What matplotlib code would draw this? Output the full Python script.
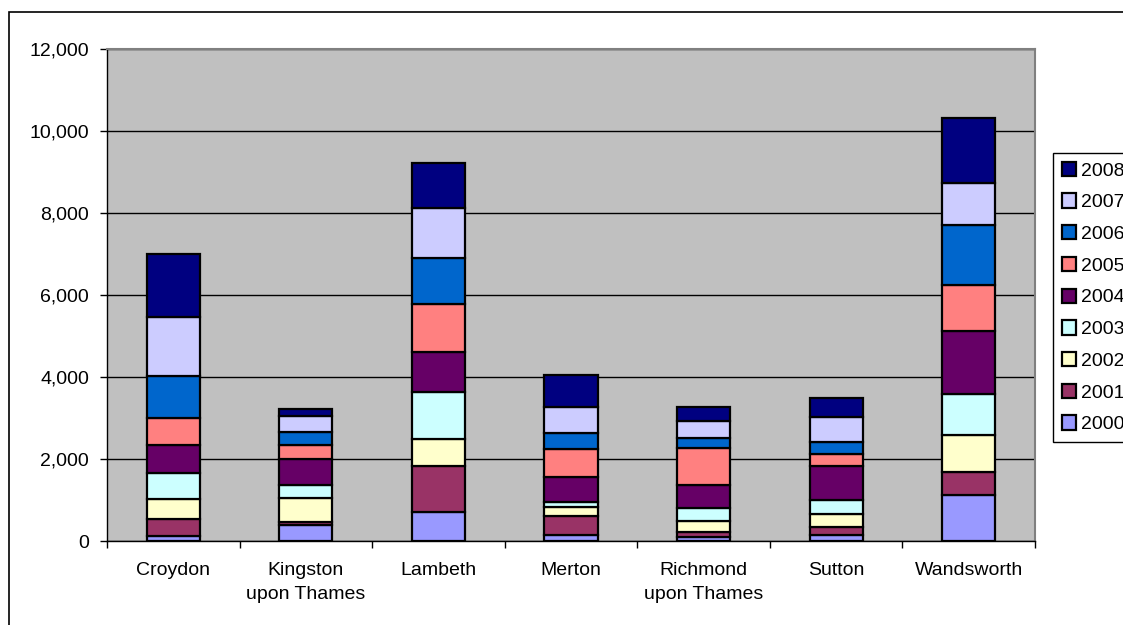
import matplotlib
matplotlib.use("Agg")
import matplotlib.pyplot as plt
from matplotlib.patches import Rectangle
from matplotlib.ticker import FuncFormatter, MultipleLocator, FixedLocator
import numpy as np

boroughs = ["Croydon", "Kingston\nupon Thames", "Lambeth", "Merton",
            "Richmond\nupon Thames", "Sutton", "Wandsworth"]
years = ["2000", "2001", "2002", "2003", "2004", "2005", "2006", "2007", "2008"]

v2000 = [120, 390, 700, 150, 90, 140, 1110]
v2001 = [420, 80, 1140, 460, 130, 190, 570]
v2002 = [480, 590, 660, 230, 270, 340, 910]
v2003 = [640, 310, 1140, 120, 310, 320, 990]
v2004 = [690, 630, 980, 600, 570, 850, 1550]
v2005 = [650, 350, 1170, 680, 900, 280, 1120]
v2006 = [1020, 320, 1110, 390, 240, 290, 1450]
v2007 = [1440, 370, 1220, 650, 420, 610, 1030]
v2008 = [1550, 190, 1100, 780, 350, 470, 1580]

series = [v2000, v2001, v2002, v2003, v2004, v2005, v2006, v2007, v2008]
colors = ["#9999FF", "#993366", "#FFFFCC", "#CCFFFF", "#660066",
          "#FF8080", "#0066CC", "#CCCCFF", "#000080"]

W, H = 1123, 625
fig = plt.figure(figsize=(W / 100, H / 100), dpi=100)
fig.patch.set_facecolor("white")
plt.rcParams["font.family"] = ["Liberation Sans", "DejaVu Sans"]

left, right, top, bottom = 107, 1035, 49, 541
ax = fig.add_axes([left / W, 1 - bottom / H, (right - left) / W, (bottom - top) / H])
ax.set_facecolor("#C0C0C0")

x = np.arange(len(boroughs))
base = np.zeros(len(boroughs))
handles = []
for vals, col, yr in zip(series, colors, years):
    b = ax.bar(x, vals, width=0.4, bottom=base, color=col, edgecolor="black",
               linewidth=1.6, label=yr, zorder=3)
    handles.append(b)
    base += np.array(vals)

ax.set_xlim(-0.5, len(boroughs) - 0.5)
ax.set_ylim(0, 12000)
ax.yaxis.set_major_locator(MultipleLocator(2000))
ax.yaxis.set_major_formatter(FuncFormatter(lambda v, p: f"{int(v):,}"))
ax.grid(axis="y", color="black", linewidth=1.0, zorder=1)

ax.set_xticks(x)
ax.set_xticklabels(boroughs, fontsize=14, linespacing=1.55)
ax.xaxis.set_minor_locator(FixedLocator(np.arange(-0.5, len(boroughs), 1.0)))
ax.tick_params(axis="x", which="major", length=0, pad=15)
ax.tick_params(axis="x", which="minor", length=5, width=1, color="black")
ax.tick_params(axis="y", length=5, width=1, color="black", labelsize=14, pad=8)

for s in ["left", "bottom"]:
    ax.spines[s].set_color("black")
    ax.spines[s].set_linewidth(1.0)
for s in ["top", "right"]:
    ax.spines[s].set_color("#808080")
    ax.spines[s].set_linewidth(1.5)

leg = ax.legend(handles[::-1], years[::-1], loc="upper left",
                bbox_to_anchor=(1053 / W, 1 - 153 / H), bbox_transform=fig.transFigure,
                fontsize=14, frameon=True, fancybox=False, framealpha=1,
                edgecolor="black", handlelength=0.75, handleheight=0.75,
                handletextpad=0.25, labelspacing=0.71, borderpad=0.45,
                borderaxespad=0)
leg.get_frame().set_linewidth(1.0)

# outer chart-area frame
fig.patches.append(Rectangle((9 / W, -0.5), 2.0, (1 - 12 / H) + 0.5,
                             transform=fig.transFigure, fill=False,
                             edgecolor="black", linewidth=1.2))

fig.savefig("out.png", dpi=100)
